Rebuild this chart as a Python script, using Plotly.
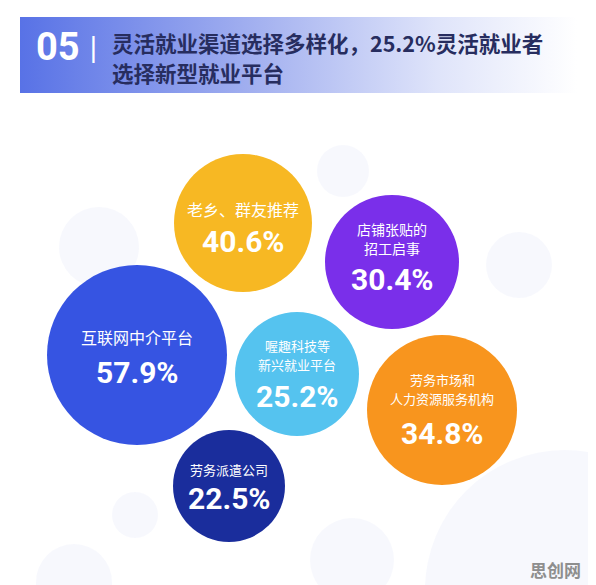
import plotly.graph_objects as go

# ---------------- data ----------------
channels = [["互联网中介平台"], ["老乡、群友推荐"], ["店铺张贴的", "招工启事"],
            ["喔趣科技等", "新兴就业平台"], ["劳务市场和", "人力资源服务机构"], ["劳务派遣公司"]]
shares = [57.9, 40.6, 30.4, 25.2, 34.8, 22.5]
section_no = "05"
title_lines = ["灵活就业渠道选择多样化，25.2%灵活就业者", "选择新型就业平台"]
watermark = "思创网"

# ---------------- layout (page pixel space) ----------------
PAGE_W, PAGE_H = 596, 585
OFF = 8  # default page body margin
cx = [137, 243, 392, 297, 442, 229]
cy = [355, 223, 262, 374, 410, 486]
radius = [90, 69, 67, 62, 75, 56]
label_y = [337, 209, 238, 355, 389, 469]
value_y = [372, 241, 279, 396, 433, 498]
label_size = [16, 16, 14, 13, 13, 13]
line_gap = 19
colors = ["#3654e2", "#f7b823", "#7a2fea", "#55c3ef", "#f8951e", "#1a2d9c"]

# faint decorative background bubbles
bg_x = [99, 343, 519, 74, 135, 352, 565]
bg_y = [247, 171, 265, 582, 515, 560, 590]
bg_r = [40, 26, 33, 38, 23, 42, 140]

CJK = "Noto Sans CJK SC, sans-serif"
NUM = "Roboto, sans-serif"

fig = go.Figure()

# header band with gradient
fig.add_trace(go.Scatter(
    x=[20, 577, 577, 20, 20], y=[17, 17, 93, 93, 17],
    mode="lines", line=dict(width=0), fill="toself",
    fillgradient=dict(type="horizontal",
                      colorscale=[[0, "#5872e6"], [0.4, "#9fadef"],
                                  [0.75, "#dfe4fa"], [1, "#ffffff"]]),
    hoverinfo="skip", showlegend=False))

# background faint bubbles
fig.add_trace(go.Scatter(
    x=bg_x, y=bg_y, mode="markers",
    marker=dict(size=[2 * r for r in bg_r], sizemode="diameter",
                color="rgba(228,232,247,0.42)", line=dict(width=0)),
    hoverinfo="skip", showlegend=False))

# main bubbles
fig.add_trace(go.Scatter(
    x=cx, y=cy, mode="markers",
    marker=dict(size=[2 * r for r in radius], sizemode="diameter",
                color=colors, opacity=1, line=dict(width=0)),
    hoverinfo="skip", showlegend=False))

# labels
for i, lines in enumerate(channels):
    n = len(lines)
    for k, line in enumerate(lines):
        yy = label_y[i] + (k - (n - 1) / 2) * line_gap
        fig.add_annotation(x=cx[i], y=yy, text=line, showarrow=False,
                           font=dict(family=CJK, size=label_size[i], color="white"),
                           xanchor="center", yanchor="middle", borderpad=0)
    fig.add_annotation(x=cx[i], y=value_y[i], text=f"<b>{shares[i]:.1f}%</b>",
                       showarrow=False,
                       font=dict(family=NUM, size=30, color="white"),
                       xanchor="center", yanchor="middle", borderpad=0)

# header texts
fig.add_annotation(x=58, y=47, text=f"<b>{section_no}</b>", showarrow=False,
                   font=dict(family=NUM, size=38, color="white"),
                   xanchor="center", yanchor="middle")
fig.add_annotation(x=93, y=47, text="|", showarrow=False,
                   font=dict(family="DejaVu Sans", size=26, color="white"),
                   xanchor="center", yanchor="middle")
fig.add_annotation(x=110, y=42, text=f"<b>{title_lines[0]}</b>", showarrow=False,
                   font=dict(family=CJK, size=21.5, color="#272d5f"),
                   xanchor="left", yanchor="middle")
fig.add_annotation(x=110, y=72, text=f"<b>{title_lines[1]}</b>", showarrow=False,
                   font=dict(family=CJK, size=21.5, color="#272d5f"),
                   xanchor="left", yanchor="middle")

# watermark
fig.add_annotation(x=583, y=569, text=f"<b>{watermark}</b>", showarrow=False,
                   font=dict(family=CJK, size=17, color="#8e8e8e"),
                   xanchor="right", yanchor="middle")

fig.update_xaxes(range=[OFF, PAGE_W], visible=False, fixedrange=True)
fig.update_yaxes(range=[PAGE_H, OFF], visible=False, fixedrange=True)
fig.update_layout(width=PAGE_W - OFF, height=PAGE_H - OFF,
                  margin=dict(l=0, r=0, t=0, b=0),
                  paper_bgcolor="white", plot_bgcolor="white",
                  showlegend=False)

fig.write_html("out.html")
